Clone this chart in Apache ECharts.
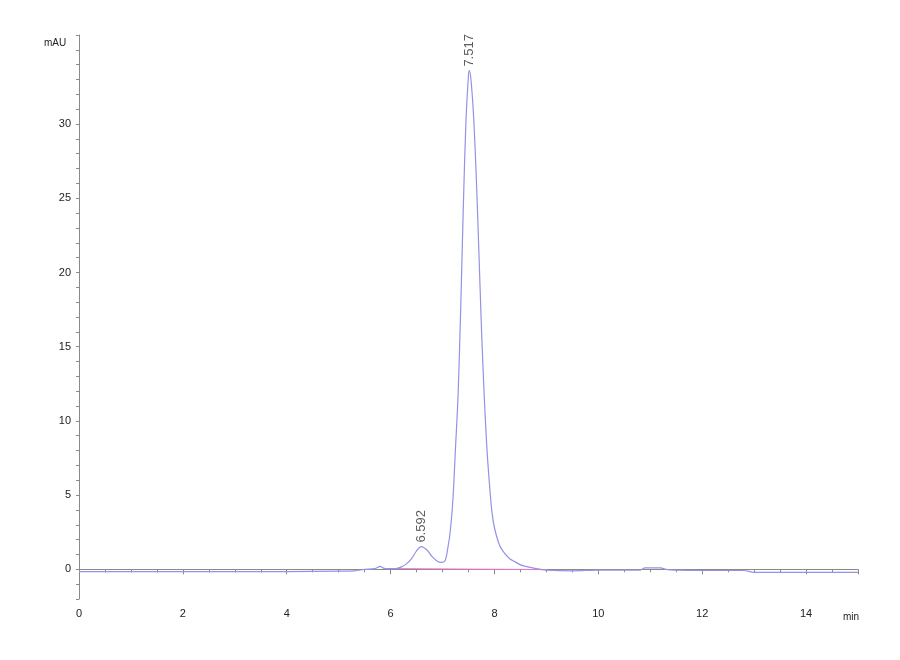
<!DOCTYPE html>
<html>
<head>
<meta charset="utf-8">
<script src="https://cdn.jsdelivr.net/npm/echarts@6/dist/echarts.min.js"></script>
<style>
  html, body { margin: 0; padding: 0; background: #fff; }
  #container { width: 900px; height: 660px; }
</style>
</head>
<body>
<div id="container"></div>
<script>
// chromatogram trace (min, mAU)
var times = [0, 1, 2, 3, 4, 5, 5.3, 5.5, 5.7, 5.8, 5.85, 5.9, 6.0, 6.1, 6.2, 6.3, 6.4, 6.5, 6.59, 6.7, 6.8, 6.9, 6.975,
    7.05, 7.1, 7.15, 7.2, 7.25, 7.3, 7.35, 7.4, 7.45, 7.5, 7.517, 7.55, 7.6, 7.65, 7.7, 7.75, 7.8, 7.85, 7.9, 7.95,
    8.0, 8.1, 8.2, 8.3, 8.4, 8.5, 8.6, 8.8, 9.0, 9.5, 10, 10.8, 10.9, 11.2, 11.3, 11.5, 12, 12.8, 13, 14, 15];
var signal = [-0.15, -0.15, -0.15, -0.15, -0.15, -0.12, -0.1, 0.0, 0.05, 0.2, 0.1, 0.05, 0.05, 0.05, 0.15, 0.35, 0.7, 1.25, 1.53, 1.3, 0.85, 0.55, 0.47,
    0.6, 1.4, 2.6, 4.7, 8.2, 11.8, 17.6, 24.4, 30.1, 33.3, 33.6, 32.9, 30.4, 26.4, 21.4, 16.2, 11.9, 8.4, 5.9, 3.9,
    2.8, 1.6, 1.05, 0.7, 0.5, 0.3, 0.2, 0.05, -0.05, -0.1, -0.05, -0.05, 0.1, 0.1, 0.0, -0.05, -0.08, -0.08, -0.2, -0.2, -0.2];

// integration baseline
var baseTimes = [6.0, 9.0];
var baseVals = [0.05, -0.02];

// peak labels
var peakTimes = [6.592, 7.517];
var peakHeights = [1.53, 33.6];
var peakNames = ['6.592', '7.517'];

var dom = document.getElementById('container');
var myChart = echarts.init(dom, null, { renderer: 'canvas' });

var axisGray = '#8a8a8a';
var labelFont = { color: '#222', fontSize: 11, fontFamily: 'Liberation Sans, Arial, sans-serif' };

var option = {
    animation: false,
    backgroundColor: '#fff',
    grid: { left: 79, right: 42, top: 35, bottom: 61 },
    xAxis: {
        type: 'value',
        min: 0,
        max: 15,
        interval: 2,
        axisLine: { lineStyle: { color: axisGray } },
        axisTick: { length: 5, lineStyle: { color: axisGray } },
        minorTick: { show: true, splitNumber: 4, length: 3, lineStyle: { color: axisGray } },
        splitLine: { show: false },
        axisLabel: Object.assign({ margin: 9, showMaxLabel: false }, labelFont)
    },
    yAxis: {
        type: 'value',
        min: -2,
        max: 36,
        interval: 1,
        axisLine: { show: true, lineStyle: { color: axisGray } },
        axisTick: { show: true, length: 3, lineStyle: { color: axisGray } },
        splitLine: { show: false },
        axisLabel: Object.assign({
            margin: 8,
            formatter: function (v) { return (v % 5 === 0 && v >= 0 && v <= 30) ? String(v) : ''; }
        }, labelFont)
    },
    graphic: [
        { type: 'text', left: 44, top: 38, style: { text: 'mAU', fill: '#222', font: '10px Liberation Sans, Arial, sans-serif' } },
        { type: 'text', left: 843, top: 612, style: { text: 'min', fill: '#222', font: '10px Liberation Sans, Arial, sans-serif' } }
    ],
    series: [
        {
            name: 'baseline',
            type: 'line',
            data: baseTimes.map(function (t, i) { return [t, baseVals[i]]; }),
            showSymbol: false,
            lineStyle: { color: '#f070d0', width: 1 },
            z: 2
        },
        {
            name: 'signal',
            type: 'line',
            data: times.map(function (t, i) { return [t, signal[i]]; }),
            showSymbol: false,
            smooth: 0.3,
            lineStyle: { color: '#9292e6', width: 1.2 },
            z: 3
        },
        {
            name: 'peaks',
            type: 'scatter',
            symbolSize: 0,
            data: peakTimes.map(function (t, i) { return [t, peakHeights[i], peakNames[i]]; }),
            label: {
                show: true,
                position: 'top',
                distance: 4,
                rotate: 90,
                align: 'left',
                verticalAlign: 'middle',
                formatter: function (p) { return p.data[2]; },
                color: '#333',
                fontSize: 13,
                fontFamily: 'Liberation Sans, Arial, sans-serif'
            },
            z: 4
        }
    ]
};

myChart.setOption(option);
window.addEventListener('resize', myChart.resize);
</script>
</body>
</html>
